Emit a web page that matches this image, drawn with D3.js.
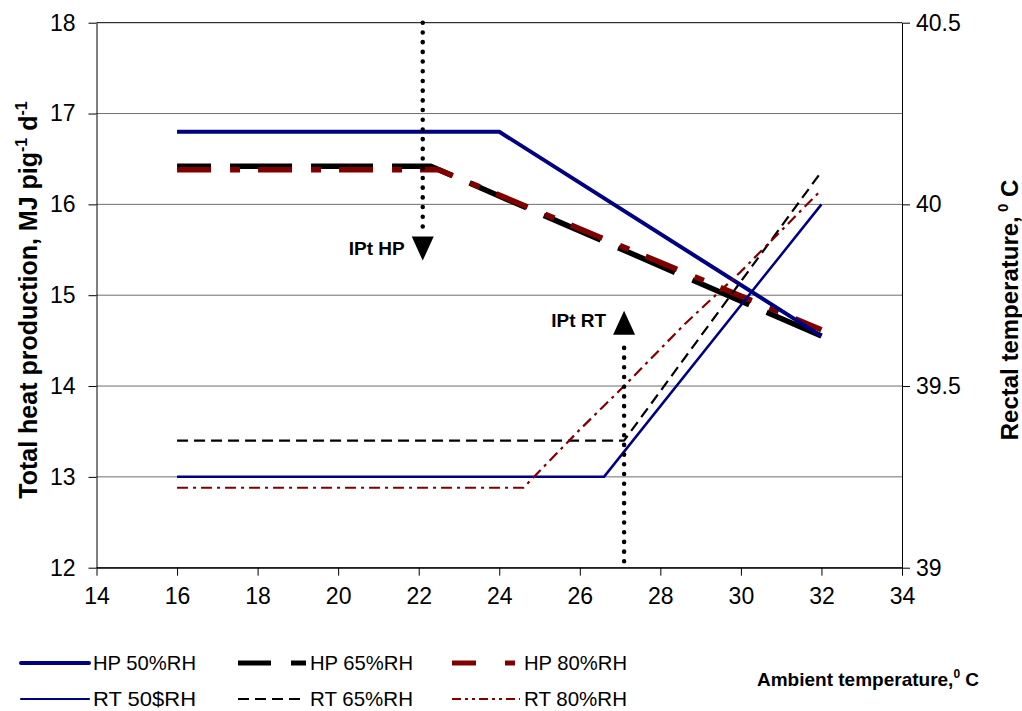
<!DOCTYPE html>
<html>
<head>
<meta charset="utf-8">
<script src="https://cdn.jsdelivr.net/npm/d3@7"></script>
<style>
  body { margin: 0; background: #fff; }
  svg text { font-family: "Liberation Sans", Arial, sans-serif; fill: #000; }
</style>
</head>
<body>
<div id="chart"></div>
<script>
// Ambient temperature (x) and tick values
const xTicks = [14, 16, 18, 20, 22, 24, 26, 28, 30, 32, 34];
const hpTicks = [12, 13, 14, 15, 16, 17, 18];
const rtTicks = [39, 39.5, 40, 40.5];

// Total heat production, MJ/pig/d (left axis)
const hp50Temp = [16, 24, 32];
const hp50 = [16.8, 16.8, 14.55];
const hp65Temp = [16, 22.3, 32];
const hp65 = [16.42, 16.42, 14.55];
const hp80Temp = [16, 22.5, 32];
const hp80 = [16.38, 16.38, 14.62];

// Rectal temperature, °C (right axis)
const rt50Temp = [16, 26.6, 32];
const rt50 = [39.25, 39.25, 40.0];
const rt65Temp = [16, 27.1, 32];
const rt65 = [39.35, 39.35, 40.09];
const rt80Temp = [16, 24.6, 26, 27.1, 28.6, 30, 32];
const rt80 = [39.22, 39.22, 39.38, 39.5, 39.67, 39.815, 40.04];

// Inflection point markers: temperature, top and bottom of dotted line (left axis units)
const ipLabels = ["IPt HP", "IPt RT"];
const ipTemp = [22.1, 27.1];
const ipFrom = [18, 12.07];
const ipTo = [15.7, 14.51];

const margin = { top: 22.7, right: 120, bottom: 143.3, left: 96.5 };
const width = 1022 - margin.left - margin.right;
const height = 711 - margin.top - margin.bottom;

const root = d3.select("#chart")
    .append("svg")
    .attr("width", 1022)
    .attr("height", 711);

const svg = root.append("g")
    .attr("transform", `translate(${margin.left},${margin.top})`);

const x = d3.scaleLinear().domain([14, 34]).range([0, width]);
const yL = d3.scaleLinear().domain([12, 18]).range([height, 0]);
const yR = d3.scaleLinear().domain([39, 40.5]).range([height, 0]);

// gridlines
svg.append("g")
    .selectAll("line")
    .data(hpTicks)
    .enter().append("line")
    .attr("x1", 0)
    .attr("x2", width)
    .attr("y1", d => yL(d))
    .attr("y2", d => yL(d))
    .attr("stroke", d => d === 12 || d === 18 ? "#000" : "#6e6e6e")
    .attr("stroke-width", 1);

// axes
const axisFont = g => {
    g.selectAll("text").style("font-size", "23px").attr("fill", "#000");
    g.selectAll("line").attr("stroke", "#000");
    g.select(".domain").attr("stroke", "#000");
};

svg.append("g")
    .attr("transform", `translate(0,${height})`)
    .call(d3.axisBottom(x).tickValues(xTicks).tickSize(8).tickSizeOuter(0).tickPadding(12))
    .call(axisFont);

svg.append("g")
    .call(d3.axisLeft(yL).tickValues(hpTicks).tickSize(8).tickSizeOuter(0).tickPadding(13)
        .tickFormat(d3.format("d")))
    .call(axisFont);

svg.append("g")
    .attr("transform", `translate(${width},0)`)
    .call(d3.axisRight(yR).tickValues(rtTicks).tickSize(8).tickSizeOuter(0).tickPadding(6)
        .tickFormat(d3.format("")))
    .call(axisFont);

// series (legend order)
const series = [
    { temp: hp50Temp, vals: hp50, y: yL, color: "#000080", w: 4, dash: null },
    { temp: hp65Temp, vals: hp65, y: yL, color: "#000000", w: 5.5, dash: "62,19", off: 28 },
    { temp: hp80Temp, vals: hp80, y: yL, color: "#800000", w: 5.5, dash: "34,19,10,18", off: 0 },
    { temp: rt50Temp, vals: rt50, y: yR, color: "#000080", w: 2.5, dash: null },
    { temp: rt65Temp, vals: rt65, y: yR, color: "#000000", w: 2.2, dash: "11,6" },
    { temp: rt80Temp, vals: rt80, y: yR, color: "#800000", w: 2.2, dash: "11,5,3,5" }
];

// draw order: HP 50 on top of the other HP lines
const drawOrder = [1, 2, 0, 3, 4, 5];
drawOrder.forEach(k => {
    const s = series[k];
    const line = d3.line()
        .x((d, i) => x(s.temp[i]))
        .y(d => s.y(d));
    svg.append("path")
        .datum(s.vals)
        .attr("d", line)
        .attr("fill", "none")
        .attr("stroke", s.color)
        .attr("stroke-width", s.w)
        .attr("stroke-linejoin", "round")
        .attr("stroke-dasharray", s.dash)
        .attr("stroke-dashoffset", s.off || 0);
});

// inflection point annotations
ipLabels.forEach((label, i) => {
    const px = x(ipTemp[i]);
    const y0 = yL(ipFrom[i]);
    const y1 = yL(ipTo[i]);
    const down = y1 > y0;
    svg.append("line")
        .attr("x1", px).attr("x2", px)
        .attr("y1", y0).attr("y2", y1)
        .attr("stroke", "#000")
        .attr("stroke-width", 4.5)
        .attr("stroke-linecap", "round")
        .attr("stroke-dasharray", "0.1,9.6");
    const dir = down ? 1 : -1;
    const tb = y1 + dir * 5;
    const tip = tb + dir * 24;
    svg.append("path")
        .attr("d", `M${px - 11},${tb} L${px + 11},${tb} L${px},${tip} Z`)
        .attr("fill", "#000");
    svg.append("text")
        .attr("x", px - 18)
        .attr("y", down ? tb + 18 : tip + 16)
        .attr("text-anchor", "end")
        .style("font-size", "19px")
        .style("font-weight", "bold")
        .text(label);
});

// axis titles
const leftTitle = root.append("text")
    .attr("transform", "translate(37,300) rotate(-90)")
    .attr("text-anchor", "middle")
    .style("font-size", "25px")
    .style("font-weight", "bold");
leftTitle.append("tspan").text("Total heat production, MJ pig");
leftTitle.append("tspan").attr("dy", -10).style("font-size", "16px").text("-1");
leftTitle.append("tspan").attr("dy", 10).text(" d");
leftTitle.append("tspan").attr("dy", -10).style("font-size", "16px").text("-1");

const rightTitle = root.append("text")
    .attr("transform", "translate(1018,310) rotate(-90)")
    .attr("text-anchor", "middle")
    .style("font-size", "24px")
    .style("font-weight", "bold");
rightTitle.append("tspan").text("Rectal temperature,");
rightTitle.append("tspan").attr("dy", -10).style("font-size", "15px").text(" 0");
rightTitle.append("tspan").attr("dy", 10).text(" C");

const xTitle = root.append("text")
    .attr("x", 757)
    .attr("y", 686)
    .style("font-size", "19px")
    .style("font-weight", "bold");
xTitle.append("tspan").text("Ambient temperature,");
xTitle.append("tspan").attr("dy", -8).style("font-size", "12px").text("0");
xTitle.append("tspan").attr("dy", 8).text(" C");

// legend
const legendLabels = ["HP 50%RH", "HP 65%RH", "HP 80%RH", "RT 50$RH", "RT 65%RH", "RT 80%RH"];
const legendCols = [21, 238, 452];
const legendRows = [663, 699];
const legendDash = [null, "33,20,16", "24,29,10", null, "11,6", "9,4,3,4,3,4"];

const legend = root.append("g");
legendLabels.forEach((label, i) => {
    const s = series[i];
    const lx = legendCols[i % 3];
    const ly = legendRows[Math.floor(i / 3)];
    legend.append("line")
        .attr("x1", lx).attr("x2", lx + 68)
        .attr("y1", ly).attr("y2", ly)
        .attr("stroke", s.color)
        .attr("stroke-width", i < 3 ? (i === 0 ? 4 : 5) : 2.2)
        .attr("stroke-linecap", i === 0 || i === 3 ? "round" : "butt")
        .attr("stroke-dasharray", legendDash[i]);
    legend.append("text")
        .attr("x", lx + 72)
        .attr("y", ly + 7)
        .attr("textLength", 103)
        .attr("lengthAdjust", "spacingAndGlyphs")
        .style("font-size", "21px")
        .text(label);
});
</script>
</body>
</html>
